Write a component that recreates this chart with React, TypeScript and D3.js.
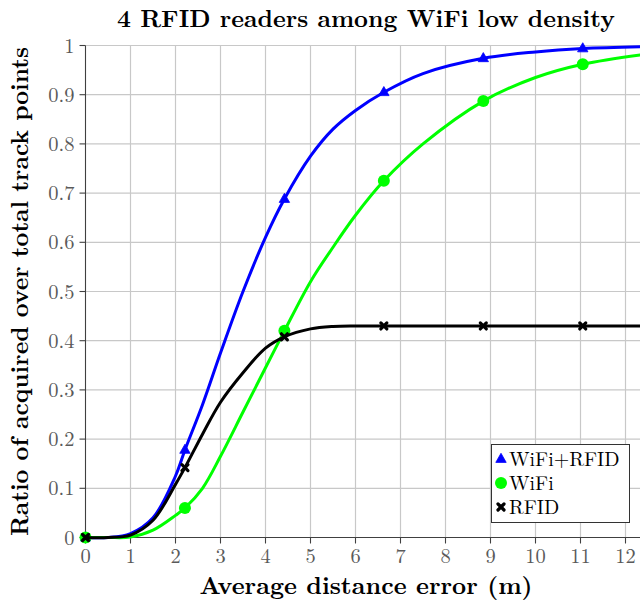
import React from "react";
import * as d3 from "d3";

const title = "4 RFID readers among WiFi low density";
const xLabel = "Average distance error (m)";
const yLabel = "Ratio of acquired over total track points";

const curveX = [0, 0.5, 1, 1.5, 2, 2.21, 2.6, 3, 3.5, 4, 4.42, 5, 5.5, 6, 6.63, 7.5, 8.84, 10, 11.05, 12.5];
const wifiRfid = [0, 0, 0.008, 0.04, 0.125, 0.178, 0.27, 0.375, 0.5, 0.61, 0.688, 0.775, 0.83, 0.868, 0.905, 0.943, 0.974, 0.987, 0.994, 0.998];
const wifi = [0, 0, 0.001, 0.015, 0.045, 0.06, 0.1, 0.165, 0.255, 0.345, 0.42, 0.52, 0.59, 0.655, 0.725, 0.8, 0.887, 0.935, 0.962, 0.983];
const rfid = [0, 0, 0.005, 0.035, 0.108, 0.142, 0.21, 0.275, 0.335, 0.385, 0.408, 0.424, 0.429, 0.43, 0.43, 0.43, 0.43, 0.43, 0.43, 0.43];

const markX = [0, 2.21, 4.42, 6.63, 8.84, 11.05];

const xTicks = [0, 1, 2, 3, 4, 5, 6, 7, 8, 9, 10, 11, 12];
const yTicks = [0, 0.1, 0.2, 0.3, 0.4, 0.5, 0.6, 0.7, 0.8, 0.9, 1];

const seriesNames = ["WiFi+RFID", "WiFi", "RFID"];
const seriesColors = ["#0000ff", "#00ff00", "#000000"];
const seriesMarks = ["triangle", "circle", "cross"];
const seriesValues = [wifiRfid, wifi, rfid];

const W = 640;
const H = 603;
const FONT = `"Latin Modern Roman", "FreeSerif", serif`;

function Marker({ kind, x, y, color }: { kind: string; x: number; y: number; color: string }) {
  if (kind === "triangle") {
    const s = 5.2;
    return (
      <path
        d={`M${x},${y - s * 1.1} L${x + s},${y + s * 0.65} L${x - s},${y + s * 0.65} Z`}
        fill={color}
        stroke={color}
        strokeWidth={0.8}
      />
    );
  }
  if (kind === "circle") {
    return <circle cx={x} cy={y} r={6} fill={color} />;
  }
  const s = 3;
  return (
    <path
      d={`M${x - s},${y - s} L${x + s},${y + s} M${x - s},${y + s} L${x + s},${y - s}`}
      stroke={color}
      strokeWidth={3.2}
      strokeLinecap="round"
      fill="none"
    />
  );
}

export default function App() {
  const x = d3.scaleLinear().domain([0, 12.5]).range([85.5, 85.5 + 45 * 12.5]);
  const y = d3.scaleLinear().domain([0, 1]).range([537.5, 45.5]);

  const line = d3
    .line<[number, number]>()
    .x((d) => x(d[0]))
    .y((d) => y(d[1]))
    .curve(d3.curveCatmullRom.alpha(0.5));

  const valAt = (vals: number[], xv: number) => vals[curveX.indexOf(xv)];

  const ts = { fontFamily: FONT };

  return (
    <svg width={W} height={H} style={{ position: "absolute", left: 0, top: 0, background: "#fff" }}>
      <rect x={0} y={0} width={W} height={H} fill="#fff" />
      <g stroke="#c8c8c8" strokeWidth={1.2}>
        {xTicks.slice(1).map((t) => (
          <line key={"gx" + t} x1={x(t)} x2={x(t)} y1={y(0)} y2={y(1)} />
        ))}
        {yTicks.slice(1).map((t) => (
          <line key={"gy" + t} x1={x(0)} x2={W} y1={y(t)} y2={y(t)} />
        ))}
      </g>
      <g stroke="#404040" strokeWidth={1.1}>
        <line x1={x(0)} x2={x(0)} y1={y(0)} y2={y(1)} />
        <line x1={x(0)} x2={W} y1={y(0)} y2={y(0)} />
        {yTicks.map((t) => (
          <line key={"ty" + t} x1={x(0) - 6} x2={x(0)} y1={y(t)} y2={y(t)} />
        ))}
        {xTicks.map((t) => (
          <line key={"tx" + t} x1={x(t)} x2={x(t)} y1={y(0)} y2={y(0) + 6} />
        ))}
      </g>
      <g fill="#5a5a5a" fontSize={20.5}>
        {yTicks.map((t) => (
          <text key={"ly" + t} x={x(0) - 11} y={y(t) + 7} textAnchor="end" style={ts}>
            {String(t)}
          </text>
        ))}
        {xTicks.map((t) => (
          <text key={"lx" + t} x={x(t)} y={y(0) + 25} textAnchor="middle" style={ts}>
            {String(t)}
          </text>
        ))}
      </g>
      {seriesValues.map((vals, si) => {
        const pts: [number, number][] = curveX.map((cx, i) => [cx, vals[i]]);
        return (
          <g key={"s" + si}>
            <path d={line(pts) || ""} fill="none" stroke={seriesColors[si]} strokeWidth={3} />
            {markX.map((mx) => (
              <Marker
                key={"m" + mx}
                kind={seriesMarks[si]}
                x={x(mx)}
                y={y(valAt(vals, mx))}
                color={seriesColors[si]}
              />
            ))}
          </g>
        );
      })}
      <g>
        <rect x={491.5} y={444.5} width={138} height={78} fill="#fff" stroke="#333" strokeWidth={1} />
        {seriesNames.map((n, i) => {
          const cy = 459 + i * 24;
          return (
            <g key={"lg" + i}>
              <Marker kind={seriesMarks[i]} x={501} y={cy} color={seriesColors[i]} />
              <text x={509} y={cy + 7} fontSize={20} fill="#000" style={ts}>
                {n}
              </text>
            </g>
          );
        })}
      </g>
      <text x={366} y={27} textAnchor="middle" fontSize={24.2} fontWeight="bold" fill="#000" style={ts}>
        {title}
      </text>
      <text x={366} y={593.5} textAnchor="middle" fontSize={24.5} fontWeight="bold" fill="#000" style={ts}>
        {xLabel}
      </text>
      <text
        transform={`translate(28,${(y(0) + y(1)) / 2}) rotate(-90)`}
        textAnchor="middle"
        fontSize={24}
        fontWeight="bold"
        fill="#000"
        style={ts}
      >
        {yLabel}
      </text>
    </svg>
  );
}
